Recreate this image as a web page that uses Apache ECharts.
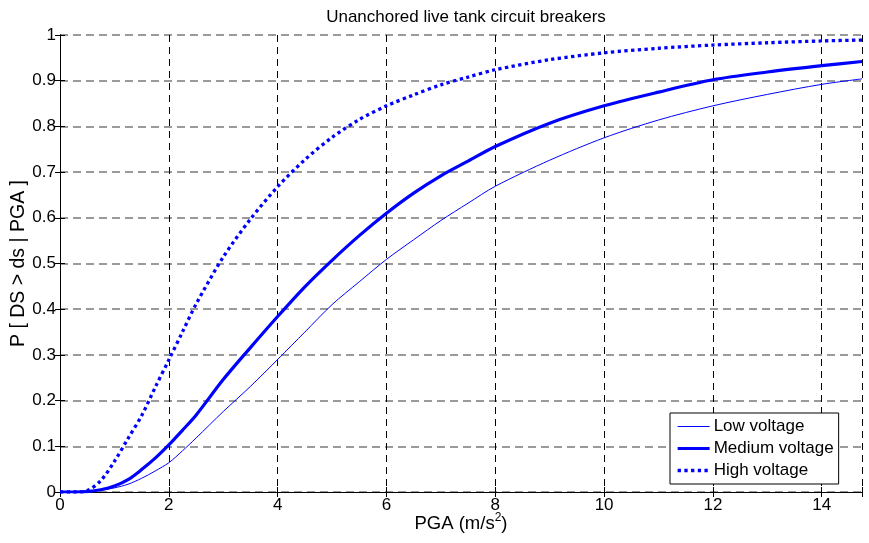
<!DOCTYPE html>
<html>
<head>
<meta charset="utf-8">
<script src="https://cdn.jsdelivr.net/npm/echarts@6/dist/echarts.min.js"></script>
<style>
  html, body { margin: 0; padding: 0; background: #fff; }
  #chart { width: 869px; height: 543px; }
</style>
</head>
<body>
<div id="chart"></div>
<script>
// Fragility curves: probability of exceeding damage state vs peak ground acceleration
const pga = [0, 0.25, 0.5, 0.75, 1, 1.25, 1.5, 1.75, 2, 2.25, 2.5, 3, 3.5, 4, 4.5, 5, 5.5, 6, 6.5, 7, 7.5, 8, 9, 10, 11, 12, 13, 14, 14.74];
const lowVoltage = [0, 0, 0.001, 0.004, 0.009, 0.017, 0.03, 0.046, 0.064, 0.09, 0.118, 0.176, 0.231, 0.29, 0.35, 0.41, 0.46, 0.509, 0.552, 0.594, 0.632, 0.669, 0.726, 0.775, 0.814, 0.845, 0.87, 0.892, 0.904];
const mediumVoltage = [0, 0, 0.001, 0.005, 0.013, 0.027, 0.049, 0.074, 0.103, 0.135, 0.168, 0.246, 0.316, 0.384, 0.449, 0.507, 0.561, 0.61, 0.654, 0.692, 0.724, 0.756, 0.807, 0.845, 0.875, 0.902, 0.919, 0.933, 0.942];
const highVoltage = [0, 0, 0.003, 0.025, 0.067, 0.117, 0.167, 0.229, 0.289, 0.35, 0.411, 0.514, 0.597, 0.668, 0.727, 0.776, 0.815, 0.845, 0.869, 0.891, 0.908, 0.924, 0.946, 0.961, 0.971, 0.978, 0.983, 0.987, 0.989];
const seriesNames = ['Low voltage', 'Medium voltage', 'High voltage'];
const xMax = 14.74;

const FONT = 'Liberation Sans, Arial, Helvetica, sans-serif';
const BLUE = '#0000ff';
const pairs = ys => pga.map((x, i) => [x, ys[i]]);

// line styles shared by the curves and their legend entries
const lineStyles = [
  { color: BLUE, width: 1 },
  { color: BLUE, width: 3.2 },
  { color: BLUE, width: 3.3, type: [3.3, 3.4], cap: 'butt' }
];

const chart = echarts.init(document.getElementById('chart'), null, { renderer: 'canvas' });

// top/right frame of the axes box with inward ticks
const frameAxis = {
  axisLine: { show: true, lineStyle: { color: '#000', width: 1 } },
  axisTick: { show: true, inside: true, length: 5, lineStyle: { color: '#000' } },
  axisLabel: { show: false },
  splitLine: { show: false }
};

chart.setOption({
  animation: false,
  backgroundColor: '#fff',
  title: {
    text: 'Unanchored live tank circuit breakers',
    left: 461,
    top: 4,
    textAlign: 'center',
    textStyle: { fontFamily: FONT, fontSize: 17, fontWeight: 'normal', color: '#000' }
  },
  grid: { left: 60, right: 7, top: 35, bottom: 51, containLabel: false, outerBoundsMode: 'none' },
  legend: {
    orient: 'vertical',
    left: 670,
    top: 413,
    data: seriesNames.map((name, i) => ({ name, lineStyle: Object.assign({}, lineStyles[i]) })),
    backgroundColor: '#fff',
    borderColor: '#000',
    borderWidth: 1,
    borderRadius: 0,
    padding: [5, 5, 5, 6],
    itemWidth: 32,
    itemHeight: 16,
    itemGap: 5,
    itemStyle: { opacity: 0, borderWidth: 0 },
    textStyle: { fontFamily: FONT, fontSize: 17, color: '#000', padding: [0, 0, 0, -1] }
  },
  xAxis: [
    {
      type: 'value',
      min: 0,
      max: xMax,
      interval: 2,
      name: 'PGA (m/s{sup|2})',
      nameLocation: 'middle',
      nameGap: 20,
      nameMoveOverlap: false,
      nameTextStyle: {
        fontFamily: FONT, fontSize: 18.5, color: '#000', lineHeight: 24,
        rich: { sup: { fontFamily: FONT, fontSize: 12, lineHeight: 14, verticalAlign: 'top', color: '#000' } }
      },
      axisLine: { show: true, onZero: false, lineStyle: { color: '#000', width: 1 } },
      axisTick: { show: true, inside: true, length: 5, lineStyle: { color: '#000' } },
      axisLabel: {
        fontFamily: FONT, fontSize: 17, color: '#000', margin: 5,
        formatter: v => (Math.abs(v % 2) < 1e-9 ? String(v) : '')
      },
      splitLine: { show: true, lineStyle: { color: '#000', width: 1, type: [7, 5] } }
    },
    Object.assign({ type: 'value', min: 0, max: xMax, interval: 2, position: 'top', gridIndex: 0 }, frameAxis)
  ],
  yAxis: [
    {
      type: 'value',
      min: 0,
      max: 1,
      interval: 0.1,
      name: 'P [ DS > ds | PGA ]',
      nameLocation: 'middle',
      nameGap: 31,
      nameMoveOverlap: false,
      nameTextStyle: { fontFamily: FONT, fontSize: 19.5, color: '#000' },
      axisLine: { show: true, onZero: false, lineStyle: { color: '#000', width: 1 } },
      axisTick: { show: true, inside: true, length: 5, lineStyle: { color: '#000' } },
      axisLabel: { fontFamily: FONT, fontSize: 17, color: '#000', margin: 4 },
      splitLine: { show: true, lineStyle: { color: '#7a7a7a', width: 1.5, type: [8, 5] } }
    },
    Object.assign({ type: 'value', min: 0, max: 1, interval: 0.1, position: 'right', gridIndex: 0 }, frameAxis)
  ],
  series: seriesNames.map((name, i) => ({
    name,
    type: 'line',
    data: pairs([lowVoltage, mediumVoltage, highVoltage][i]),
    xAxisIndex: 0,
    yAxisIndex: 0,
    symbol: 'none',
    smooth: 0.3,
    lineStyle: lineStyles[i],
    itemStyle: { color: BLUE },
    z: 3
  }))
});
</script>
</body>
</html>
